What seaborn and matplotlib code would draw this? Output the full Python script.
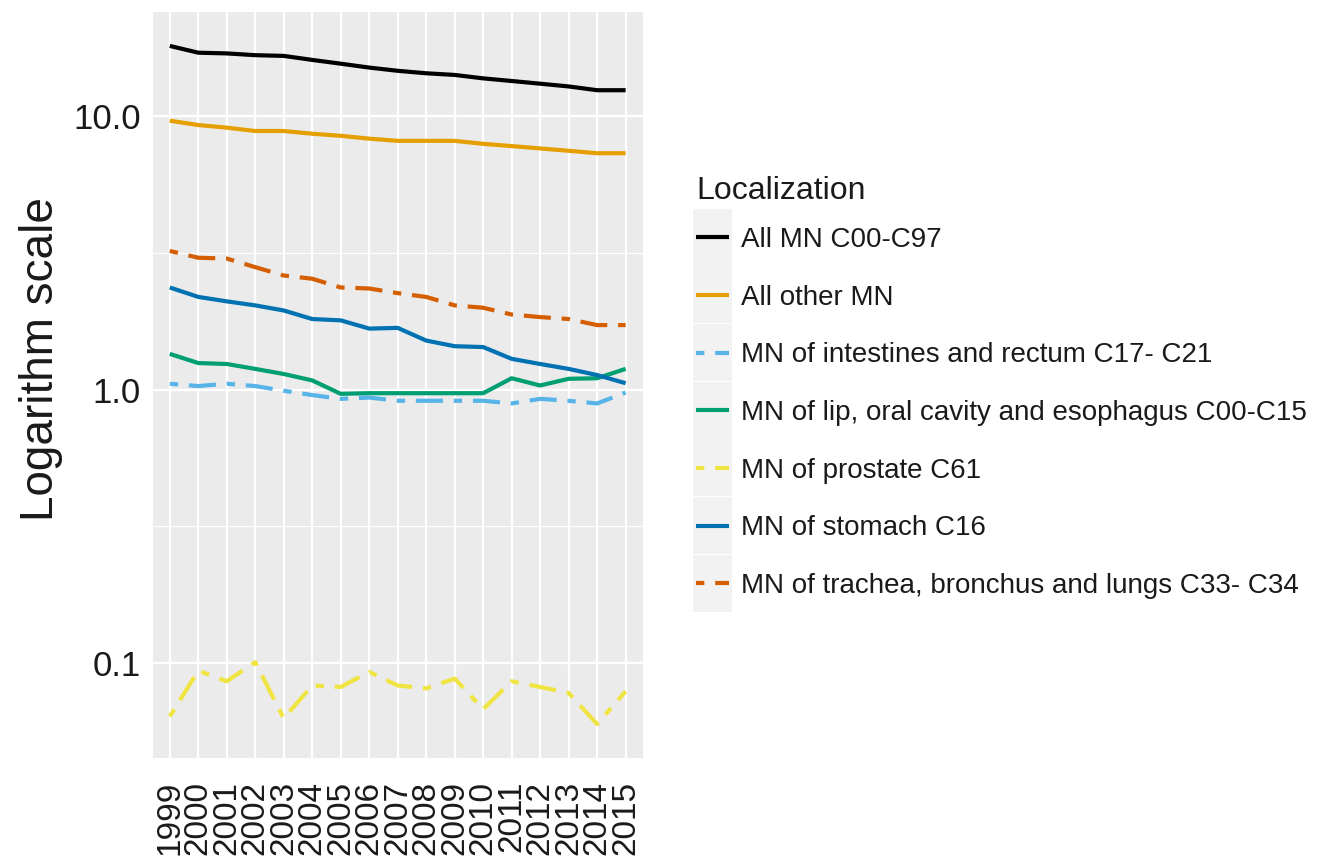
import matplotlib
matplotlib.use("Agg")
import numpy as np
import pandas as pd
import matplotlib.pyplot as plt
import seaborn as sns
from matplotlib import font_manager
from matplotlib.ticker import FixedLocator, FixedFormatter, NullFormatter
from matplotlib.lines import Line2D
from matplotlib.patches import Rectangle
from matplotlib.legend_handler import HandlerLine2D

# ---- data -------------------------------------------------------------
years = [1999, 2000, 2001, 2002, 2003, 2004, 2005, 2006, 2007,
         2008, 2009, 2010, 2011, 2012, 2013, 2014, 2015]
year_labels = ["1999", "2000", "2001", "2002", "2003", "2004", "2005", "2006", "2007",
               "2008", "2009", "2010", "2011", "2012", "2013", "2014", "2015"]

localizations = [
    "All MN C00-C97",
    "All other MN",
    "MN of intestines and rectum C17- C21",
    "MN of lip, oral cavity and esophagus C00-C15",
    "MN of prostate C61",
    "MN of stomach C16",
    "MN of trachea, bronchus and lungs C33- C34",
]

all_mn = [18.0, 17.0, 16.9, 16.65, 16.55, 16.0, 15.5, 15.0, 14.6,
          14.3, 14.1, 13.7, 13.4, 13.1, 12.8, 12.4, 12.4]
all_other_mn = [9.6, 9.25, 9.05, 8.8, 8.8, 8.6, 8.45, 8.25, 8.1,
                8.1, 8.1, 7.9, 7.75, 7.6, 7.45, 7.3, 7.3]
intestines_rectum = [1.05, 1.03, 1.05, 1.03, 0.99, 0.955, 0.925, 0.935, 0.91,
                     0.91, 0.91, 0.91, 0.89, 0.925, 0.91, 0.89, 0.975]
lip_oral_esophagus = [1.35, 1.25, 1.24, 1.19, 1.14, 1.08, 0.965, 0.97, 0.97,
                      0.97, 0.97, 0.97, 1.10, 1.035, 1.095, 1.10, 1.19]
prostate = [0.064, 0.094, 0.086, 0.101, 0.063, 0.083, 0.082, 0.093, 0.083,
            0.081, 0.088, 0.068, 0.086, 0.082, 0.078, 0.060, 0.079]
stomach = [2.36, 2.18, 2.10, 2.03, 1.945, 1.81, 1.79, 1.67, 1.68,
           1.51, 1.44, 1.43, 1.295, 1.24, 1.19, 1.13, 1.055]
trachea_lungs = [3.21, 3.03, 3.01, 2.80, 2.61, 2.54, 2.36, 2.34, 2.25,
                 2.18, 2.03, 1.99, 1.88, 1.84, 1.81, 1.72, 1.72]

y_ticks = [0.1, 1.0, 10.0]
y_tick_labels = ["0.1", "1.0", "10.0"]

series = [all_mn, all_other_mn, intestines_rectum, lip_oral_esophagus,
          prostate, stomach, trachea_lungs]

# ---- styling ----------------------------------------------------------
line_colors = ["#000000", "#E69F00", "#56B4E9", "#009E73",
               "#F0E442", "#0072B2", "#D55E00"]
is_dashed = [False, False, True, False, True, False, True]
TWODASH = (2.0, 2.6, 6.5, 2.6)
LW = 3.0

palette = dict(zip(localizations, line_colors))
dash_map = {name: (TWODASH if d else "") for name, d in zip(localizations, is_dashed)}

sns.set_theme(style="darkgrid", rc={
    "axes.facecolor": "#EBEBEB",
    "figure.facecolor": "white",
    "grid.color": "white",
    "lines.solid_capstyle": "butt",
    "lines.dash_capstyle": "butt",
})
available = {f.name for f in font_manager.fontManager.ttflist}
BASE = ["Liberation Sans", "DejaVu Sans"]
plt.rcParams["font.family"] = BASE
if "Liberation Sans Narrow" in available:
    legend_family = ["Liberation Sans Narrow", "Liberation Sans", "DejaVu Sans"]
    legend_size = 23
else:
    legend_family = BASE
    legend_size = 20

TEXT = "#1a1a1a"

df = pd.DataFrame({
    "Year": years * len(localizations),
    "Rate": np.concatenate(series),
    "Localization": np.repeat(localizations, len(years)),
})

# ---- figure -----------------------------------------------------------
W, H = 1317, 864
fig = plt.figure(figsize=(W / 100, H / 100), dpi=100)
pl, pr, pt, pb = 152.7, 642.7, 12.0, 758.0
ax = fig.add_axes([pl / W, 1 - pb / H, (pr - pl) / W, (pb - pt) / H])

sns.lineplot(data=df, x="Year", y="Rate", hue="Localization", style="Localization",
             hue_order=localizations, style_order=localizations,
             palette=palette, dashes=dash_map, linewidth=LW,
             estimator=None, errorbar=None, legend=False, ax=ax)

ax.set_yscale("log")
lo, hi = np.log10(df["Rate"].min()), np.log10(df["Rate"].max())
span = hi - lo
ax.set_ylim(10 ** (lo - 0.05 * span), 10 ** (hi + 0.05 * span))
ax.set_xlim(years[0] - 0.6, years[-1] + 0.6)

ax.yaxis.set_major_locator(FixedLocator(y_ticks))
ax.yaxis.set_major_formatter(FixedFormatter(y_tick_labels))
minor = [10 ** (np.log10(t) + 0.5) for t in [0.01] + y_ticks]
ax.yaxis.set_minor_locator(FixedLocator(minor))
ax.yaxis.set_minor_formatter(NullFormatter())

ax.set_xticks(years)
ax.set_xticklabels(year_labels, rotation=90, fontsize=24, color=TEXT)
for lab in ax.get_yticklabels():
    lab.set_fontsize(25)
    lab.set_color(TEXT)

ax.tick_params(axis="both", which="major", length=4.5, width=1.0, color="#333333",
               direction="out")
ax.tick_params(axis="x", pad=12)
ax.tick_params(axis="y", pad=4)
ax.tick_params(axis="y", which="minor", length=0)

ax.grid(which="major", color="white", linewidth=1.6)
ax.grid(which="minor", axis="y", color="white", linewidth=0.8)
ax.set_axisbelow(True)
for s in ax.spines.values():
    s.set_visible(False)

ax.set_xlabel("")
ax.set_ylabel("Logarithm scale", fontsize=33, color=TEXT)
ax.yaxis.set_label_coords(-0.183, 0.535)


# ---- legend with grey key backgrounds --------------------------------
class KeyWithBackground(HandlerLine2D):
    def __init__(self, pad_x, row_pitch, **kw):
        super().__init__(**kw)
        self.pad_x = pad_x
        self.row_pitch = row_pitch

    def create_artists(self, legend, orig_handle, xdescent, ydescent,
                       width, height, fontsize, trans):
        arts = super().create_artists(legend, orig_handle, xdescent, ydescent,
                                      width, height, fontsize, trans)
        yc = height / 2 - ydescent
        bg = Rectangle((-xdescent - self.pad_x, yc - self.row_pitch / 2),
                       width + 2 * self.pad_x, self.row_pitch,
                       facecolor="#F2F2F2", edgecolor="none", transform=trans)
        return [bg] + arts


handles = [Line2D([], [], color=c, linewidth=LW,
                  linestyle=(0, TWODASH) if d else "-")
           for c, d in zip(line_colors, is_dashed)]

px2pt = 72 / 100
row_pitch_pt = 57 * px2pt
leg = fig.legend(handles, localizations, title="Localization",
                 loc="upper left", bbox_to_anchor=(696 / W, 1 - 176 / H),
                 frameon=False, borderpad=0, borderaxespad=0,
                 prop={"family": legend_family, "size": legend_size},
                 title_fontproperties={"family": BASE, "size": 23},
                 handlelength=33 * px2pt / legend_size,
                 handletextpad=12 * px2pt / legend_size,
                 labelspacing=(row_pitch_pt - 0.91 * legend_size) / legend_size,
                 alignment="left",
                 handler_map={Line2D: KeyWithBackground(3 * px2pt, row_pitch_pt)})
leg._legend_box.sep = 15
for t in leg.get_texts():
    t.set_color(TEXT)
leg.get_title().set_color(TEXT)

fig.savefig("out.png", dpi=100)
